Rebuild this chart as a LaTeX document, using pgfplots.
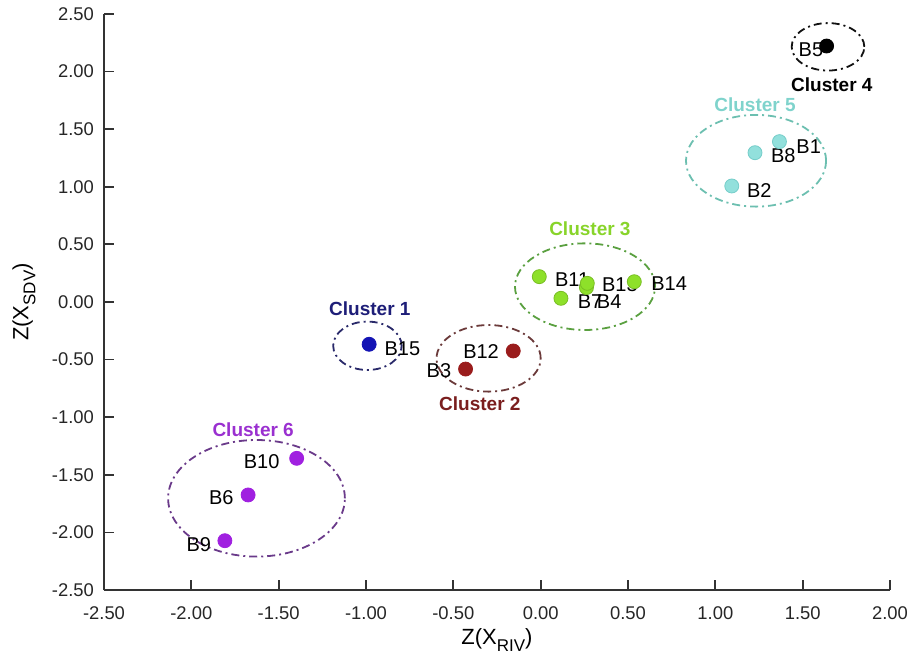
\documentclass[border=0pt]{standalone}
\usepackage{pgfplots}
\pgfplotsset{compat=1.18}
\usepackage{fontspec}
\setmainfont{Liberation Sans}
\definecolor{axc}{HTML}{333333}
\definecolor{cAdot}{HTML}{1414B4}\definecolor{cAtxt}{HTML}{1E1E78}\definecolor{cAell}{HTML}{2A2A6A}
\definecolor{cBdot}{HTML}{9A1C1C}\definecolor{cBtxt}{HTML}{7A1E1E}\definecolor{cBell}{HTML}{6B3A3A}
\definecolor{cCdot}{HTML}{8EE02A}\definecolor{cCtxt}{HTML}{88D42A}\definecolor{cCell}{HTML}{5AA040}
\definecolor{cDdot}{HTML}{000000}\definecolor{cDtxt}{HTML}{000000}\definecolor{cDell}{HTML}{111111}
\definecolor{cEdot}{HTML}{92E0DC}\definecolor{cEtxt}{HTML}{7FD3CC}\definecolor{cEell}{HTML}{6CBFB0}
\definecolor{cFdot}{HTML}{A020E0}\definecolor{cFtxt}{HTML}{9A30D0}\definecolor{cFell}{HTML}{6A3A8A}
\tikzset{ell/.style={line width=0.9pt, dash pattern=on 4pt off 2pt on 1pt off 2pt}}
\begin{document}
\begin{tikzpicture}
\begin{axis}[
  name=ax,
  scale only axis, width=393pt, height=288pt,
  xmin=-2.5, xmax=2, ymin=-2.5, ymax=2.5,
  axis lines*=left,
  axis line style={axc, line width=1pt},
  tick align=inside, major tick length=5pt,
  every tick/.style={axc, line width=0.9pt},
  xtick={-2.5,-2,-1.5,-1,-0.5,0,0.5,1,1.5,2},
  ytick={-2.5,-2,-1.5,-1,-0.5,0,0.5,1,1.5,2,2.5},
  /pgf/number format/assume math mode=true,
  /pgf/number format/.cd, fixed, fixed zerofill, precision=2, /pgfplots/.cd,
  tick label style={font=\fontsize{9.2}{10}\selectfont, text=black!85},
  xticklabel style={yshift=-5pt},
  yticklabel style={xshift=-1.5pt},
  xlabel={Z(X\raisebox{-3.5pt}{\fontsize{8.5}{9}\selectfont RIV})},
  ylabel={Z(X\raisebox{-3.5pt}{\fontsize{8.5}{9}\selectfont SDV})},
  every axis x label/.style={at={(axis description cs:0.5,0)}, anchor=center, yshift=-25pt, font=\fontsize{11}{12}\selectfont},
  every axis y label/.style={at={(axis description cs:0,0.5)}, anchor=center, xshift=-40pt, rotate=90, font=\fontsize{11}{12}\selectfont},
  clip=false,
  every node/.append style={font=\fontsize{9}{10}\selectfont, inner sep=0pt},
]
% ellipses (cluster boundaries)
\draw[ell, cAell] (axis cs:-0.992,-0.380) ellipse [x radius=0.196, y radius=0.21];
\draw[ell, cBell] (axis cs:-0.298,-0.489) ellipse [x radius=0.298, y radius=0.289];
\draw[ell, cCell] (axis cs:0.254,0.133) ellipse [x radius=0.401, y radius=0.376];
\draw[ell, cDell] (axis cs:1.645,2.215) ellipse [x radius=0.208, y radius=0.206];
\draw[ell, cEell] (axis cs:1.233,1.226) ellipse [x radius=0.401, y radius=0.398];
\draw[ell, cFell] (axis cs:-1.627,-1.704) ellipse [x radius=0.506, y radius=0.506];
% points
\addplot[only marks, mark=*, mark size=3.5pt, mark options={fill=cAdot, draw=cAdot}] coordinates {(-0.982,-0.367)};
\addplot[only marks, mark=*, mark size=3.5pt, mark options={fill=cBdot, draw=cBdot}] coordinates {(-0.157,-0.425) (-0.430,-0.582)};
\addplot[only marks, mark=*, mark size=3.5pt, mark options={fill=cCdot, draw=cCdot!85!black}] coordinates {(-0.008,0.220) (0.262,0.125) (0.267,0.162) (0.116,0.032) (0.536,0.176)};
\addplot[only marks, mark=*, mark size=3.5pt, mark options={fill=cDdot, draw=cDdot}] coordinates {(1.637,2.222)};
\addplot[only marks, mark=*, mark size=3.5pt, mark options={fill=cEdot, draw=cEdot!80!teal}] coordinates {(1.367,1.392) (1.227,1.296) (1.094,1.007)};
\addplot[only marks, mark=*, mark size=3.5pt, mark options={fill=cFdot, draw=cFdot}] coordinates {(-1.397,-1.357) (-1.675,-1.675) (-1.808,-2.072)};
% point labels
\node[anchor=west] at (axis cs:-0.934,-0.408) {B15};
\node[anchor=east] at (axis cs:-0.199,-0.431) {B12};
\node[anchor=east] at (axis cs:-0.472,-0.599) {B3};
\node[anchor=west] at (axis cs:0.042,0.191) {B11};
\node[anchor=west] at (axis cs:0.311,0.150) {B13};
\node[anchor=west] at (axis cs:0.172,0.005) {B7};
\node[anchor=west] at (axis cs:0.282,0.005) {B4};
\node[anchor=west] at (axis cs:0.593,0.162) {B14};
\node[anchor=west] at (axis cs:1.437,2.188) {B5};
\node[anchor=west] at (axis cs:1.424,1.348) {B1};
\node[anchor=west] at (axis cs:1.279,1.267) {B8};
\node[anchor=west] at (axis cs:1.141,0.972) {B2};
\node[anchor=east] at (axis cs:-1.455,-1.386) {B10};
\node[anchor=east] at (axis cs:-1.718,-1.695) {B6};
\node[anchor=east] at (axis cs:-1.847,-2.109) {B9};
% cluster labels
\node[font=\fontsize{9.5}{11}\selectfont\bfseries, text=cAtxt] at (axis cs:-0.978,-0.055) {Cluster 1};
\node[font=\fontsize{9.5}{11}\selectfont\bfseries, text=cBtxt] at (axis cs:-0.348,-0.879) {Cluster 2};
\node[font=\fontsize{9.5}{11}\selectfont\bfseries, text=cCtxt] at (axis cs:0.282,0.640) {Cluster 3};
\node[font=\fontsize{9.5}{11}\selectfont\bfseries, text=cDtxt] at (axis cs:1.667,1.885) {Cluster 4};
\node[font=\fontsize{9.5}{11}\selectfont\bfseries, text=cEtxt] at (axis cs:1.227,1.710) {Cluster 5};
\node[font=\fontsize{9.5}{11}\selectfont\bfseries, text=cFtxt] at (axis cs:-1.646,-1.111) {Cluster 6};
\end{axis}
\pgfresetboundingbox
\useasboundingbox ([shift={(-52pt,-35.5pt)}]ax.south west) rectangle ([shift={(10pt,7pt)}]ax.north east);
\end{tikzpicture}
\end{document}
